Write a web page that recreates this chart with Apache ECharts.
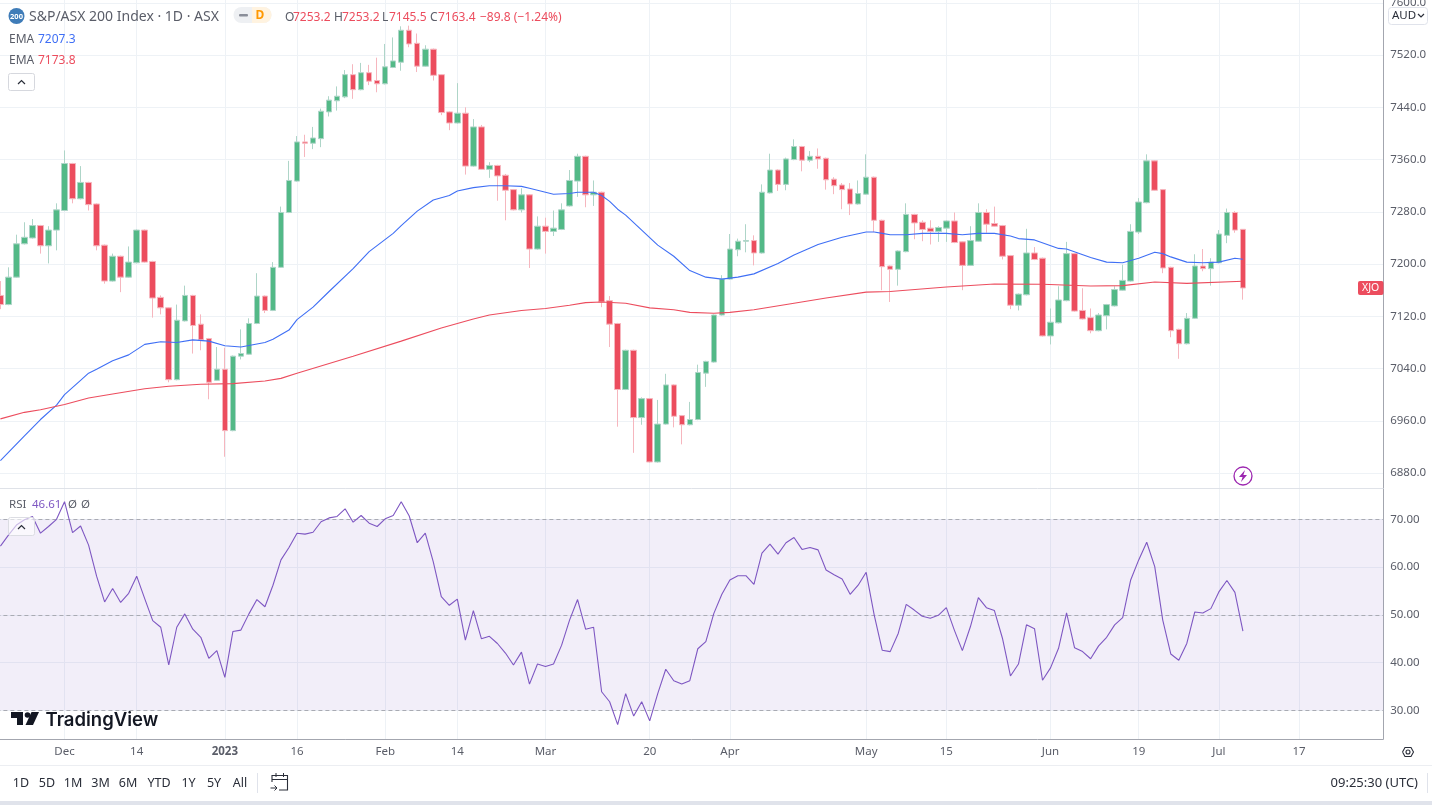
<!DOCTYPE html>
<html><head><meta charset="utf-8"><title>S&amp;P/ASX 200</title>
<style>html,body{margin:0;padding:0;background:#fff;overflow:hidden}#c{width:1432px;height:805px}</style>
<script src="https://cdn.jsdelivr.net/npm/echarts@6/dist/echarts.min.js"></script></head>
<body><div id="c"></div><script>
const opens=[7152,7138,7180,7231,7240,7259,7228,7252,7282,7354,
7300,7325,7292,7229,7174,7212,7180,7202,7252,7204,
7149,7133,7023,7113,7152,7108,7086,7022,7039,6945,
7059,7062,7109,7151,7129,7195,7279,7327,7387,7385,
7392,7433,7450,7456,7490,7467,7493,7481,7476,7501,
7509,7558,7538,7503,7529,7490,7433,7416,7431,7350,
7410,7345,7351,7336,7314,7283,7306,7223,7258,7250,
7253,7289,7327,7365,7306,7310,7144,7109,7008,7068,
6965,6994,6897,6955,7015,6968,6954,6962,7033,7050,
7122,7177,7222,7235,7236,7217,7309,7344,7322,7360,
7380,7359,7365,7362,7330,7321,7315,7292,7307,7333,
7267,7197,7192,7219,7276,7264,7255,7250,7255,7266,
7234,7198,7235,7279,7262,7259,7213,7137,7153,7217,
7209,7090,7110,7144,7216,7129,7118,7098,7121,7136,
7160,7174,7249,7294,7358,7314,7195,7100,7078,7117,
7197,7193,7202,7244,7279,7253.2];
const highs=[7174,7195,7245,7264,7269,7260,7258,7293,7374,7355,
7350,7326,7293,7230,7216,7213,7227,7253,7253,7205,
7152,7134,7138,7167,7153,7123,7087,7073,7072,7060,
7100,7117,7186,7152,7203,7288,7358,7396,7398,7410,
7438,7457,7472,7497,7506,7508,7505,7516,7537,7547,
7564,7565,7553,7535,7530,7491,7434,7477,7440,7422,
7413,7356,7352,7338,7315,7316,7307,7273,7271,7282,
7293,7344,7369,7366,7328,7311,7151,7110,7069,7069,
6996,6995,6992,7032,7016,6969,6989,7046,7052,7123,
7183,7246,7239,7261,7244,7322,7369,7345,7363,7391,
7381,7373,7377,7363,7333,7324,7324,7328,7368,7334,
7268,7198,7221,7293,7277,7267,7267,7258,7267,7279,
7235,7258,7293,7284,7288,7260,7214,7155,7254,7226,
7210,7132,7166,7234,7217,7163,7132,7125,7139,7166,
7199,7261,7301,7368,7359,7315,7196,7101,7125,7215,
7223,7209,7252,7285,7281,7253.2];
const lows=[7131,7137,7179,7230,7239,7216,7201,7221,7281,7293,
7299,7282,7221,7170,7173,7157,7179,7201,7202,7118,
7123,7019,7022,7112,7063,7068,6993,7021,6905,6944,
7054,7061,7108,7125,7128,7194,7278,7326,7364,7376,
7379,7426,7435,7454,7453,7466,7474,7463,7475,7500,
7496,7532,7494,7502,7481,7428,7405,7415,7337,7349,
7344,7332,7297,7267,7282,7279,7194,7222,7216,7243,
7252,7288,7303,7287,7289,7134,7073,6951,7007,6911,
6954,6896,6896,6954,6950,6924,6953,6961,7012,7049,
7121,7176,7212,7218,7198,7216,7308,7312,7313,7359,
7342,7356,7346,7314,7307,7284,7275,7291,7306,7249,
7160,7142,7167,7218,7238,7235,7230,7234,7234,7232,
7160,7197,7234,7248,7257,7207,7131,7129,7152,7206,
7089,7077,7109,7143,7127,7115,7094,7097,7100,7135,
7159,7173,7246,7293,7312,7186,7088,7055,7077,7116,
7189,7167,7201,7232,7248,7145.5];
const closes=[7138,7180,7231,7241,7259,7228,7252,7283,7354,7300,
7325,7291,7228,7174,7212,7180,7203,7252,7203,7148,
7133,7023,7114,7152,7106,7084,7019,7039,6945,7059,
7063,7109,7151,7129,7195,7279,7328,7387,7385,7393,
7434,7451,7457,7490,7467,7493,7480,7476,7502,7511,
7558,7537,7503,7529,7489,7432,7416,7431,7350,7410,
7345,7351,7335,7313,7283,7306,7223,7258,7250,7255,
7283,7328,7365,7306,7310,7142,7108,7008,7068,6965,
6994,6897,6955,7015,6967,6954,6962,7034,7051,7122,
7177,7223,7235,7236,7217,7310,7344,7322,7361,7380,
7359,7365,7361,7329,7320,7314,7292,7308,7333,7267,
7196,7192,7220,7276,7263,7253,7250,7256,7266,7233,
7198,7236,7279,7261,7258,7212,7137,7154,7217,7207,
7090,7111,7145,7216,7128,7116,7098,7122,7138,7161,
7175,7250,7295,7358,7313,7194,7098,7078,7117,7197,
7193,7203,7246,7279,7252,7163.4];
const rsiValues=[64.4,66.7,68.8,69.9,70.6,67.1,68.5,70,73.7,67.2,
68.6,64.6,58.1,52.7,55.5,52.6,54.5,58.1,53.4,48.8,
47.4,39.5,47.4,50.2,47,45.3,40.9,42.5,36.9,46.5,
46.8,50.2,53.2,51.7,56.2,61.5,64.1,67.1,66.9,67.3,
69.5,70.3,70.6,72.2,69.4,70.8,69.2,68.5,70.1,70.8,
73.7,70.7,65.1,67.1,61.1,53.8,52,53.3,44.7,50.9,
45,45.5,44,42,39.5,42.2,35.5,39.7,39.2,39.7,
43.6,48.9,53.2,47,47.4,33.9,31.8,27,33.5,28.8,
31.8,27.8,33.5,38.6,36.2,35.5,36.2,42.9,44.4,50.3,
54.3,57.3,58.2,58.2,56.4,62.9,64.8,62.7,65.1,66.2,
63.7,64.1,63.6,59.4,58.4,57.5,54.3,56.2,58.9,50,
42.6,42.3,46.1,52.2,51,49.7,49.3,49.9,51.5,46.8,
42.5,47.5,53.6,51.5,50.9,45.1,37.2,39.7,47.9,47.1,
36.3,38.9,43,50.4,43.1,42.3,40.8,43.5,45.3,47.9,
49.4,57.3,61.5,65.2,60.1,48.9,41.8,40.5,44,50.6,
50.4,51.3,54.8,57.2,54.7,46.61];
// [candle index, value]
const emaBlue=[[0,6899],[3,6937],[5,6962],[7,6984],[8,7000],[10,7022],[11,7033],[12,7039],[14,7052],[16,7061],[18,7077],[20,7081],[22,7080],[24,7084],[26,7082],[28,7075],[30,7073],[33,7080],[34,7085],[36,7099],[37,7115],[39,7134],[41,7158],[44,7193],[46,7219],[49,7247],[50,7259],[52,7281],[54,7298],[56,7305],[57,7312],[59,7317],[61,7320],[63,7320],[65,7319],[66,7316],[69,7307],[71,7308],[72,7310],[74,7310],[75,7305],[76,7296],[77,7284],[78,7275],[80,7252],[82,7229],[84,7212],[86,7190],[88,7180],[90,7177],[92,7180],[94,7185],[97,7201],[99,7214],[102,7230],[105,7241],[108,7249],[109,7249],[110,7247],[111,7245],[113,7245],[115,7247],[118,7247],[120,7245],[122,7247],[124,7247],[126,7243],[127,7239],[129,7237],[132,7224],[133,7223],[136,7210],[138,7203],[140,7202],[142,7209],[144,7218],[145,7216],[146,7211],[148,7203],[150,7202],[152,7203],[154,7209],[155,7207.3]];
const emaRed=[[0,6963],[3,6973],[5,6977],[8,6985],[11,6995],[14,7001],[18,7009],[21,7013],[25,7016],[29,7017],[33,7021],[35,7025],[37,7033],[44,7059],[50,7082],[55,7102],[59,7116],[61,7122],[65,7129],[68,7132],[71,7137],[73,7141],[75,7142],[78,7140],[81,7133],[84,7130],[86,7126],[89,7124.6],[91,7126],[94,7130],[99,7140],[103,7148],[108,7157],[111,7158],[118,7165],[124,7169.5],[130,7169],[136,7166.5],[140,7167],[144,7172.5],[148,7170.5],[155,7173.8]];
const priceTicks=[6880,6960,7040,7120,7200,7280,7360,7440,7520,7600];
const rsiTicks=[30,40,50,60,70];
const rsiDashed=[30,50,70];
const dateTickIndex=[8,17,28,37,48,57,68,81,91,108,118,131,142,152,162];
const dateTickLabels=['Dec','14','2023','16','Feb','14','Mar','20','Apr','May','15','Jun','19','Jul','17'];
const categoryCount=173;

const categories=new Array(categoryCount).fill('');
dateTickIndex.forEach((ix,k)=>{categories[ix]=dateTickLabels[k];});
const candleData=opens.map((o,i)=>[o,closes[i],lows[i],highs[i]]);

const F='"Noto Sans",sans-serif';
const GRID='#eef2f6',AX='#a3a6af',TXT='#5a5d68',RED='#ec4d5e',BLUE='#3f6ff5',PUR='#7e57c2';
const hasLabel=(i,v)=>v!=='';
const T=(x,y,text,fill,size,o)=>({type:'text',z:100,style:{x,y:y+1,text,fill,font:((o&&o.w)||'normal')+' '+size+'px '+((o&&o.f)||F),textAlign:(o&&o.a)||'left',textVerticalAlign:'middle'}});
const R=(x,y,w,h,fill,stroke,r)=>({type:'rect',z:99,shape:{x,y,width:w,height:h,r:r||0},style:{fill:fill||'none',stroke:stroke||'none',lineWidth:1}});
const P=(pts,stroke,lw)=>({type:'polyline',z:100,shape:{points:pts},style:{stroke,fill:'none',lineWidth:lw||1.2}});
const G=(pts,fill)=>({type:'polygon',z:100,shape:{points:pts},style:{fill}});
const C=(x,y,r,fill,stroke,lw)=>({type:'circle',z:100,shape:{cx:x,cy:y,r},style:{fill:fill||'none',stroke:stroke||'none',lineWidth:lw||1}});

const graphics=[
 // header
 C(16.5,16,8,'#3f7cb8'),T(16.5,15.5,'200','#fff',7.5,{a:'center',w:'bold'}),
 T(29,16,'S&P/ASX 200 Index · 1D · ASX',TXT,14),
 R(233.5,7,38,16,'#eef0f3',null,[8,8,8,8]),
 {type:'rect',z:99,shape:{x:252,y:7,width:19.5,height:16,r:[0,8,8,0]},style:{fill:'#fff3e0'}},
 R(239,14,9,2.5,'#8a8e99',null,1),
 T(260,14.5,'D','#ff9800',12,{a:'center',w:'bold'}),
 T(285,16.5,'O',TXT,12),T(293,16.5,'7253.2',RED,12),
 T(334,16.5,'H',TXT,12),T(342,16.5,'7253.2',RED,12),
 T(382,16.5,'L',TXT,12),T(389,16.5,'7145.5',RED,12),
 T(430,16.5,'C',TXT,12),T(438,16.5,'7163.4',RED,12),
 T(480,16.5,'−89.8 (−1.24%)',RED,12),
 T(9,38.5,'EMA',TXT,12),T(38,38.5,'7207.3',BLUE,12),
 T(9,60,'EMA',TXT,12),T(38,60,'7173.8',RED,12),
 R(8.5,73.5,26,17,'#fff','#d6d8de',2),P([[18,84],[21.5,80.5],[25,84]],'#2a2e39',1.2),
 // RSI legend
 T(9,504,'RSI',TXT,11.5),T(32,504,'46.61',PUR,11.5),T(68,504,'Ø',TXT,11.5),T(81,504,'Ø',TXT,11.5),
 {type:'rect',z:99,shape:{x:8.5,y:517.5,width:26,height:18,r:2},style:{fill:'rgba(255,255,255,0.6)',stroke:'#dcdde3',lineWidth:1}},
 P([[18,529],[21.5,525.5],[25,529]],'#2a2e39',1.2),
 // price tag & currency
 R(1358,281,25.5,14,'#ec4d5e',null,2),T(1370.7,287.5,'XJO','#fff',10.5,{a:'center'}),
 R(1388.5,7.5,39,17,'#fff','#e0e3eb',3),T(1392,15,'AUD','#2a2e39',11.5),P([[1418,14],[1421,17],[1424,14]],'#2a2e39',1.2),
 // lightning badge
 C(1243,476,9,'#fff','#9c27b0',1.3),G([[1245,470],[1239,477],[1242.6,477],[1241,482],[1247,475],[1243.4,475]],'#9c27b0'),
 // TradingView mark
 G([[11,712],[23,712],[23,725],[17,725],[17,718],[11,718]],'#131722'),C(27.5,715,2.8,'#131722'),G([[31.5,712],[39,712],[33,725],[25.5,725]],'#131722'),
 T(45.5,719,'TradingView','#131722',18.5,{w:'600',f:'Inter,sans-serif'}),
 // bottom bar
 {type:'line',z:99,shape:{x1:0,y1:765.5,x2:1432,y2:765.5},style:{stroke:'#eceef2',lineWidth:1}},
 R(0,801,1432,4,'#e0e3eb'),
 // gear
 P([[1402.5,752],[1405,747.5],[1411,747.5],[1413.5,752],[1411,756.5],[1405,756.5],[1402.5,752]],'#2a2e39',1.1),C(1408,752,2,null,'#2a2e39',1.1),
 // calendar
 P([[272,782],[272,775.5],[287.5,775.5],[287.5,790],[279,790]],'#2a2e39',1.1),P([[272,779.5],[287.5,779.5]],'#2a2e39',1),P([[276,773],[276,777]],'#2a2e39',1),P([[283.5,773],[283.5,777]],'#2a2e39',1),P([[270.5,788],[277,788]],'#2a2e39',1),P([[274.5,785.5],[277,788],[274.5,790.5]],'#2a2e39',1),
 {type:'line',z:99,shape:{x1:257.5,y1:773,x2:257.5,y2:793},style:{stroke:'#e0e3eb',lineWidth:1}},
 {type:'line',z:99,shape:{x1:1427.5,y1:773,x2:1427.5,y2:793},style:{stroke:'#e0e3eb',lineWidth:1}},
 T(1418,782.5,'09:25:30 (UTC)','#2a2e39',13,{a:'right'})
];
[['1D',21],['5D',47],['1M',73],['3M',100.5],['6M',128],['YTD',159],['1Y',188.5],['5Y',214],['All',240]].forEach(b=>graphics.push(T(b[1],782.5,b[0],'#2a2e39',12.5,{a:'center'})));

const chart=echarts.init(document.getElementById('c'),null,{renderer:'canvas'});
const xBase={type:'category',data:categories,boundaryGap:true,axisTick:{show:false},
 splitLine:{show:true,interval:hasLabel,alignWithLabel:true,lineStyle:{color:GRID,width:1}}};
const yBase={position:'right',scale:false,axisLine:{show:true,lineStyle:{color:AX}},
 splitLine:{show:true,lineStyle:{color:GRID,width:1}}};
chart.setOption({
 animation:false,backgroundColor:'#fff',
 grid:[{left:-3.6,top:0,width:1386.8,height:488.5,outerBoundsMode:'none'},{left:-3.6,top:489,width:1386.8,height:250,outerBoundsMode:'none'}],
 xAxis:[
  Object.assign({},xBase,{gridIndex:0,axisLabel:{show:false},axisLine:{show:true,lineStyle:{color:'#dfe2e8'}}}),
  Object.assign({},xBase,{gridIndex:1,axisLine:{show:true,lineStyle:{color:AX}},
   axisLabel:{show:true,interval:hasLabel,margin:7,color:TXT,fontFamily:F,fontSize:11.5,
    formatter:v=>v==='2023'?'{b|2023}':v,rich:{b:{fontWeight:'bold',color:TXT,fontFamily:F,fontSize:11.5}}}})
 ],
 yAxis:[
  Object.assign({},yBase,{gridIndex:0,min:6856.4,max:7604.3,
   axisTick:{show:false,customValues:priceTicks},
   axisLabel:{customValues:priceTicks,margin:7,padding:[3,0,0,0],color:TXT,fontFamily:F,fontSize:11.5,formatter:v=>v.toFixed(1)}}),
  Object.assign({},yBase,{gridIndex:1,min:24,max:76.35,
   axisTick:{show:false,customValues:rsiTicks},
   axisLabel:{customValues:rsiTicks,margin:7,padding:[2,0,0,0],color:TXT,fontFamily:F,fontSize:11.5,formatter:v=>v.toFixed(2)}})
 ],
 series:[
  {type:'candlestick',xAxisIndex:0,yAxisIndex:0,data:candleData,barWidth:6,
   itemStyle:{color:'#53b987',color0:RED,borderColor:'#aed5c8',borderColor0:'#f6b6be',borderWidth:1}},
  {type:'line',xAxisIndex:0,yAxisIndex:0,data:emaBlue,showSymbol:false,symbol:'none',lineStyle:{color:BLUE,width:1.1},z:3},
  {type:'line',xAxisIndex:0,yAxisIndex:0,data:emaRed,showSymbol:false,symbol:'none',lineStyle:{color:RED,width:1.1},z:3},
  {type:'line',xAxisIndex:1,yAxisIndex:1,data:rsiValues,showSymbol:false,symbol:'none',lineStyle:{color:PUR,width:1.1},z:5,
   markArea:{silent:true,itemStyle:{color:'rgba(126,87,194,0.1)'},data:[[{yAxis:rsiDashed[0]},{yAxis:rsiDashed[2]}]]},
   markLine:{silent:true,symbol:'none',label:{show:false},lineStyle:{color:'#a9abb3',type:[4,3],width:1},data:rsiDashed.map(v=>({yAxis:v}))}}
 ],
 graphic:graphics
});
</script></body></html>
